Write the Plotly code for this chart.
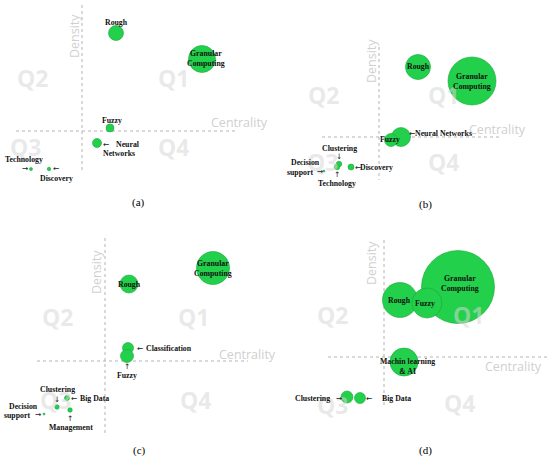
"""Strategic diagrams (density vs centrality) for four periods, 2x2 panels."""
import plotly.graph_objects as go

W, H = 550, 461

# ─── data: centrality / density relative to the median cross, bubble size ───

names_a = ["Rough", "Granular Computing", "Fuzzy", "Neural Networks", "Technology", "Discovery"]
cent_a = [34, 120, 28, 15, -51, -33]
dens_a = [98, 72, 3, -12, -38, -38]
size_a = [15, 27, 8, 9, 3, 3.5]

names_b = ["Rough", "Granular Computing", "Neural Networks", "Fuzzy",
           "Clustering", "Technology", "Discovery", "Decision support"]
cent_b = [39, 93, 22, 12, -40, -42, -28, -55]
dens_b = [70, 56, 0, -3, -27, -30, -30, -34]
size_b = [25, 48, 19, 13, 5.5, 5.5, 6, 2]

names_c = ["Rough", "Granular Computing", "Classification", "Fuzzy",
           "Clustering", "Big Data", "Management", "Decision support"]
cent_c = [24, 108, 23, 22, -48, -38, -35, -61]
dens_c = [77, 93, 13, 5, -46, -37, -49, -53]
size_c = [18, 33, 11, 13, 4.5, 5, 4.5, 2]

names_d = ["Granular Computing", "Rough", "Fuzzy", "Machin learning & AI", "Clustering", "Big Data"]
cent_d = [74, 16, 43, 20, -37, -24]
dens_d = [70, 57, 54, -5, -40, -41]
size_d = [73, 35, 30, 28, 12, 11]

# ─── panel layout (pixel boxes, cross point, decorations) ───

L, R, U, D = "←", "→", "↑", "↓"

panels = [
    dict(box=(0, 0, 275, 230), origin=(82, 131), vline=(5, 172), hline=(16, 238),
         names=names_a, cent=cent_a, dens=dens_a, size=size_a, tag="(a)", tag_xy=(138, 203),
         density_xy=(75, 36), centrality_xy=(239, 123),
         quads={"Q2": (32, 78), "Q1": (173, 78), "Q3": (25, 147), "Q4": (173, 147)},
         labels=[("Rough", 116, 22), ("Granular<br>Computing", 206, 59), ("Fuzzy", 112, 120),
                 (L, 106, 144), ("Neural", 128, 144), ("Networks", 119, 153),
                 ("Technology", 24, 159), (R, 25, 169), (L, 56, 169), ("Discovery", 56, 178)]),
    dict(box=(275, 0, 550, 230), origin=(379, 137), vline=(47, 180), hline=(322, 502),
         names=names_b, cent=cent_b, dens=dens_b, size=size_b, tag="(b)", tag_xy=(425, 204),
         density_xy=(372, 61), centrality_xy=(498, 129),
         quads={"Q2": (323, 95), "Q1": (443, 95), "Q3": (322, 162), "Q4": (443, 162)},
         labels=[("Rough", 418, 67), ("Granular<br>Computing", 472, 81), ("Fuzzy", 390, 140),
                 (L, 412, 133), ("Neural Networks", 443, 133), ("Clustering", 339, 148), (D, 339, 156),
                 ("Technology", 337, 183), (U, 337, 175), (L, 358, 167), ("Discovery", 376, 167),
                 ("Decision", 305, 163), ("support", 300, 172), (R, 320, 171)]),
    dict(box=(0, 230, 275, 461), origin=(105, 361), vline=(238, 435), hline=(37, 248),
         names=names_c, cent=cent_c, dens=dens_c, size=size_c, tag="(c)", tag_xy=(139, 450),
         density_xy=(96, 272), centrality_xy=(247, 354),
         quads={"Q2": (57, 317), "Q1": (193, 317), "Q3": (55, 400), "Q4": (195, 400)},
         labels=[("Rough", 129, 284), ("Granular<br>Computing", 213, 268),
                 (L, 140, 348), ("Classification", 169, 348), (U, 127, 366), ("Fuzzy", 127, 375),
                 ("Clustering", 57, 389), (D, 57, 399), (L, 74, 398), ("Big Data", 94, 398),
                 (U, 70, 418), ("Management", 71, 427),
                 ("Decision", 23, 406), ("support", 17, 415), (R, 38, 414)]),
    dict(box=(275, 230, 550, 461), origin=(384, 357), vline=(240, 405), hline=(328, 547),
         names=names_d, cent=cent_d, dens=dens_d, size=size_d, tag="(d)", tag_xy=(425, 450),
         density_xy=(371, 263), centrality_xy=(513, 366),
         quads={"Q2": (332, 315), "Q1": (468, 315), "Q3": (332, 405), "Q4": (460, 403)},
         labels=[("Granular<br>Computing", 460, 283), ("Rough", 399, 300), ("Fuzzy", 425, 303),
                 ("Machin learning<br>& AI", 407, 366), ("Clustering", 312, 398), (R, 339, 398),
                 (L, 369, 398), ("Big Data", 396, 398)]),
]

GREEN = "#22d04b"
EDGE = "#17a83a"
LABEL_FONT = dict(family="Liberation Serif", size=7.8, color="#111111")
ARROW_FONT = dict(family="DejaVu Sans", size=7.5, color="#222222")


def paper(x, y):
    return x / W, 1 - y / H


def note(x, y, text, font, **kw):
    px_, py_ = paper(x, y)
    return dict(x=px_, y=py_, xref="paper", yref="paper", text=text, showarrow=False,
                xanchor="center", yanchor="middle", font=font, **kw)


fig = go.Figure()
layout = dict(width=W, height=H, margin=dict(l=0, r=0, t=0, b=0),
              plot_bgcolor="white", paper_bgcolor="white", showlegend=False)
annotations = []
shapes = []

for i, p in enumerate(panels, start=1):
    left, top, right, bottom = p["box"]
    ox, oy = p["origin"]
    sfx = "" if i == 1 else str(i)
    xa, ya = "x" + sfx, "y" + sfx

    layout["xaxis" + sfx] = dict(domain=[left / W, right / W], range=[left - ox, right - ox],
                                 visible=False, fixedrange=True)
    layout["yaxis" + sfx] = dict(domain=[1 - bottom / H, 1 - top / H], range=[oy - bottom, oy - top],
                                 visible=False, fixedrange=True)

    # median cross
    shapes.append(dict(type="line", xref=xa, yref=ya, x0=0, x1=0,
                       y0=oy - p["vline"][0], y1=oy - p["vline"][1],
                       line=dict(color="#b4b4b4", width=1, dash="dot"), layer="below"))
    shapes.append(dict(type="line", xref=xa, yref=ya, y0=0, y1=0,
                       x0=p["hline"][0] - ox, x1=p["hline"][1] - ox,
                       line=dict(color="#b4b4b4", width=1, dash="dot"), layer="below"))

    fig.add_trace(go.Scatter(
        x=p["cent"], y=p["dens"], mode="markers", xaxis=xa, yaxis=ya,
        text=p["names"], hovertemplate="%{text}<br>Centrality: %{x}<br>Density: %{y}<extra></extra>",
        marker=dict(size=p["size"], sizemode="diameter", color=GREEN, opacity=1,
                    line=dict(color=EDGE, width=0.6)),
    ))

    # quadrant labels (drawn faint, on top)
    for q, (qx, qy) in p["quads"].items():
        annotations.append(note(qx, qy, f"<b>{q}</b>",
                                dict(family="Open Sans", size=23, color="rgba(215,215,215,0.55)")))

    axis_font = dict(family="Open Sans", size=12.5, color="#d0d0d0")
    annotations.append(note(*p["density_xy"], "Density", axis_font, textangle=-90))
    annotations.append(note(*p["centrality_xy"], "Centrality", axis_font))

    for txt, lx, ly in p["labels"]:
        if txt in (L, R, U, D):
            annotations.append(note(lx, ly, txt, ARROW_FONT))
        else:
            annotations.append(note(lx, ly, f"<b>{txt}</b>", LABEL_FONT, align="center"))

    annotations.append(note(*p["tag_xy"], p["tag"],
                            dict(family="Liberation Serif", size=11, color="black")))

layout["annotations"] = annotations
layout["shapes"] = shapes
fig.update_layout(**layout)
fig.write_html("out.html", config={"displayModeBar": False},
               post_script="document.body.style.margin = '0';")
